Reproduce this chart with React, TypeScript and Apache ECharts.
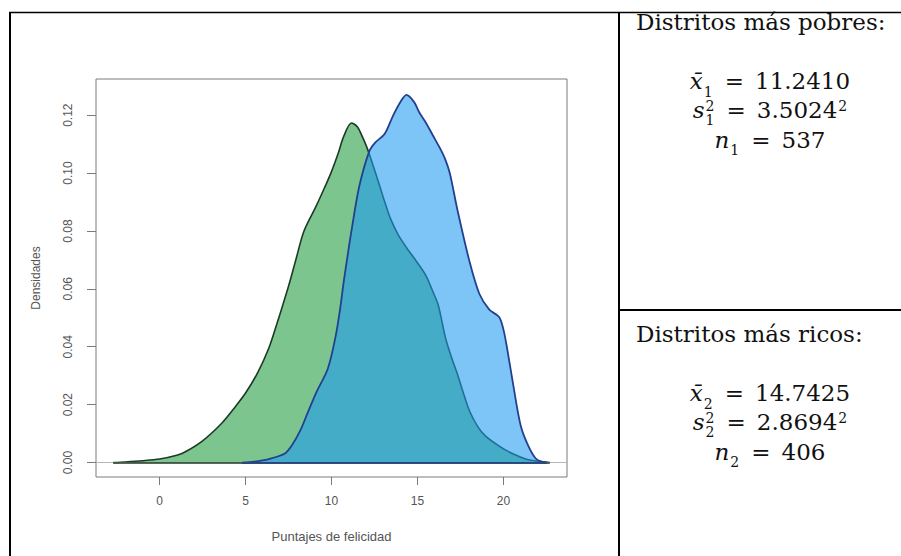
import React, { useEffect, useRef } from "react";
import * as echarts from "echarts";

// ---- data ----
const xTicks = [0, 5, 10, 15, 20];
const yTicks = [0, 0.02, 0.04, 0.06, 0.08, 0.1, 0.12];

// Distritos más pobres (green)
const poorX = [-2.7, -2.0, -1.0, 0, 1.0, 1.5, 2.5, 3.6, 4.3, 5.0, 5.7, 6.35, 6.8, 7.26, 7.6, 7.95, 8.4, 9.1, 9.6, 10.0, 10.4, 10.7, 11.16, 11.5, 11.8, 12.07, 12.4, 12.76, 13.1, 13.45, 13.9, 14.36, 15.0, 15.5, 15.9, 16.2, 16.45, 16.66, 17.0, 17.35, 17.7, 18.03, 18.5, 18.95, 19.8, 20.55, 21.3, 21.9, 22.7];
const poorY = [0, 0.0002, 0.0006, 0.0012, 0.0025, 0.0037, 0.0075, 0.0135, 0.0185, 0.024, 0.031, 0.0395, 0.0475, 0.0562, 0.063, 0.0706, 0.0800, 0.0885, 0.095, 0.1005, 0.107, 0.1125, 0.1173, 0.116, 0.1125, 0.1087, 0.103, 0.0964, 0.09, 0.084, 0.0785, 0.0743, 0.069, 0.0645, 0.059, 0.0546, 0.048, 0.0424, 0.036, 0.0301, 0.0235, 0.0178, 0.0125, 0.0092, 0.0055, 0.003, 0.0012, 0.0005, 0];

// Distritos más ricos (blue)
const richX = [4.8, 5.5, 6.35, 7.26, 7.7, 8.18, 8.6, 9.1, 9.79, 10.24, 10.5, 10.7, 10.95, 11.16, 11.6, 12.19, 12.54, 13.1, 13.57, 14.0, 14.36, 14.8, 15.1, 15.5, 15.9, 16.3, 16.6, 16.88, 17.35, 18.03, 18.6, 19.18, 19.75, 20.0, 20.2, 20.55, 21.0, 21.47, 21.92, 22.5];
const richY = [0, 0.0003, 0.0012, 0.003, 0.006, 0.011, 0.017, 0.024, 0.0325, 0.0436, 0.053, 0.062, 0.072, 0.08, 0.095, 0.1074, 0.1105, 0.1136, 0.1197, 0.1245, 0.127, 0.1246, 0.121, 0.1173, 0.113, 0.1087, 0.105, 0.1, 0.0866, 0.0694, 0.0583, 0.0528, 0.0503, 0.046, 0.04, 0.0276, 0.0129, 0.0055, 0.0012, 0];

const groupTitles = ["Distritos más pobres:", "Distritos más ricos:"];
const groupIndex = ["1", "2"];
const meanValues = ["11.2410", "14.7425"];
const sdValues = ["3.5024", "2.8694"];
const sizeValues = ["537", "406"];

const SERIF = '"DejaVu Serif", "Liberation Serif", serif';
const SANS = '"Liberation Sans", Arial, sans-serif';

type Piece = { t: string; size: number; italic?: boolean; dy: number; stack?: boolean; gap?: number };

let measureCtx: CanvasRenderingContext2D | null = null;
function measure(t: string, size: number, italic?: boolean) {
  if (!measureCtx) measureCtx = document.createElement("canvas").getContext("2d");
  if (!measureCtx) return t.length * size * 0.6;
  measureCtx.font = `${italic ? "italic " : ""}${size}px ${SERIF}`;
  return measureCtx.measureText(t).width;
}

function formula(pieces: Piece[], cx: number, baseline: number) {
  let x = 0;
  let prevStart = 0;
  let prevW = 0;
  const placed: { p: Piece; px: number }[] = [];
  for (const p of pieces) {
    const w = measure(p.t, p.size, p.italic);
    let px: number;
    if (p.stack) {
      px = prevStart;
      prevW = Math.max(prevW, w);
      x = prevStart + prevW;
    } else {
      x += p.gap || 0;
      px = x;
      prevStart = px;
      prevW = w;
      x += w;
    }
    placed.push({ p, px });
  }
  const x0 = cx - x / 2;
  return placed.map(({ p, px }) => ({
    type: "text",
    x: x0 + px,
    y: baseline + p.dy - 0.35 * p.size,
    z: 10,
    style: {
      text: p.t,
      fontSize: p.size,
      fontFamily: SERIF,
      fontStyle: p.italic ? "italic" : "normal",
      fill: "#111",
      align: "left",
      verticalAlign: "middle",
      textAlign: "left",
      textVerticalAlign: "middle",
    },
  }));
}

function cellTexts(i: number, headerBaseline: number) {
  const M = 23;
  const S = 14;
  const SUB = 7;
  const SUP = -7.3;
  const cx = 770;
  const els: any[] = [
    {
      type: "text",
      x: 636,
      y: headerBaseline - 0.35 * 23,
      z: 10,
      style: {
        text: groupTitles[i],
        fontSize: 23,
        fontFamily: SERIF,
        fill: "#111",
        align: "left",
        verticalAlign: "middle",
        textAlign: "left",
        textVerticalAlign: "middle",
      },
    },
  ];
  const idx = groupIndex[i];
  els.push(
    ...formula(
      [
        { t: "x\u0304", size: M, italic: true, dy: 0 },
        { t: idx, size: S, dy: SUB, gap: 1 },
        { t: "=", size: M, dy: 0, gap: 12 },
        { t: meanValues[i], size: M, dy: 0, gap: 11 },
      ],
      cx,
      headerBaseline + 59.5
    )
  );
  els.push(
    ...formula(
      [
        { t: "s", size: M, italic: true, dy: 0 },
        { t: "2", size: S, dy: SUP, gap: 1 },
        { t: idx, size: S, dy: SUB, stack: true },
        { t: "=", size: M, dy: 0, gap: 12 },
        { t: sdValues[i], size: M, dy: 0, gap: 11 },
        { t: "2", size: S, dy: SUP, gap: 1 },
      ],
      cx,
      headerBaseline + 88
    )
  );
  els.push(
    ...formula(
      [
        { t: "n", size: M, italic: true, dy: 0 },
        { t: idx, size: S, dy: SUB, gap: 1 },
        { t: "=", size: M, dy: 0, gap: 12 },
        { t: sizeValues[i], size: M, dy: 0, gap: 11 },
      ],
      cx,
      headerBaseline + 118
    )
  );
  return els;
}

export default function App() {
  const ref = useRef<HTMLDivElement>(null);
  useEffect(() => {
    if (!ref.current) return;
    const chart = echarts.init(ref.current, undefined, { renderer: "svg" });
    const poorData = poorX.map((x, i) => [x, poorY[i]]);
    const richData = richX.map((x, i) => [x, richY[i]]);
    const tickColor = "#7a7a7a";
    const labelStyle = { fontSize: 12, color: "#555", fontFamily: SANS };

    const borderLines = [
      { shape: { x1: 9, y1: 12.5, x2: 901, y2: 12.5 }, w: 1.5 },
      { shape: { x1: 10, y1: 12, x2: 10, y2: 556 }, w: 2 },
      { shape: { x1: 619, y1: 12, x2: 619, y2: 556 }, w: 2 },
      { shape: { x1: 619, y1: 310, x2: 901, y2: 310 }, w: 2 },
    ].map((l) => ({
      type: "line",
      shape: l.shape,
      z: 20,
      style: { stroke: "#000", lineWidth: l.w },
    }));

    chart.setOption({
      animation: false,
      backgroundColor: "#fff",
      grid: {
        left: 96,
        right: 334,
        top: 79,
        bottom: 79,
        show: true,
        borderColor: tickColor,
        borderWidth: 1,
        backgroundColor: "transparent",
        containLabel: false,
        outerBoundsMode: "none",
      },
      xAxis: {
        type: "value",
        min: -3.7,
        max: 23.7,
        splitLine: { show: false },
        axisLine: { show: false, onZero: false },
        axisTick: { show: true, customValues: xTicks, length: 8, lineStyle: { color: tickColor } },
        axisLabel: { customValues: xTicks, margin: 18, ...labelStyle },
        name: "Puntajes de felicidad",
        nameLocation: "middle",
        nameGap: 53,
        nameTextStyle: { fontSize: 13, color: "#555", fontFamily: SANS },
      },
      yAxis: {
        type: "value",
        min: -0.005,
        max: 0.1325,
        splitLine: { show: false },
        axisLine: { show: false, onZero: false },
        axisTick: { show: true, customValues: yTicks, length: 9, lineStyle: { color: tickColor } },
        axisLabel: {
          customValues: yTicks,
          rotate: 90,
          margin: 22,
          formatter: (v: number) => v.toFixed(2),
          ...labelStyle,
        },
        name: "Densidades",
        nameLocation: "middle",
        nameGap: 54,
        nameRotate: 90,
        nameTextStyle: { fontSize: 12, color: "#555", fontFamily: SANS },
      },
      series: [
        {
          type: "line",
          name: "Distritos más pobres",
          data: poorData,
          smooth: 0.3,
          symbol: "none",
          z: 2,
          lineStyle: { color: "#1d3a25", width: 1.6 },
          areaStyle: { color: "#7cc58f", opacity: 1 },
          markLine: {
            silent: true,
            symbol: "none",
            label: { show: false },
            data: [
              { yAxis: 0, lineStyle: { color: "#b5b5b5", width: 1, type: "solid" } },
              [
                { coord: [poorX[0], 0], lineStyle: { color: "#1d3a25", width: 1.6, type: "solid" } },
                { coord: [poorX[poorX.length - 1], 0] },
              ],
            ],
          },
        },
        {
          type: "line",
          name: "Distritos más ricos",
          data: richData,
          smooth: 0.3,
          symbol: "none",
          z: 3,
          lineStyle: { color: "#22408f", width: 1.8 },
          areaStyle: { color: "rgba(28,153,241,0.57)", opacity: 1 },
          markLine: {
            silent: true,
            symbol: "none",
            label: { show: false },
            data: [
              [
                { coord: [richX[0], 0], lineStyle: { color: "#22408f", width: 1.6, type: "solid" } },
                { coord: [richX[richX.length - 1], 0] },
              ],
            ],
          },
        },
      ],
      graphic: [...borderLines, ...cellTexts(0, 30), ...cellTexts(1, 342)],
    });
    return () => chart.dispose();
  }, []);
  return (
    <div
      ref={ref}
      style={{ position: "fixed", left: 0, top: 0, width: 901, height: 556, background: "#fff" }}
    />
  );
}
